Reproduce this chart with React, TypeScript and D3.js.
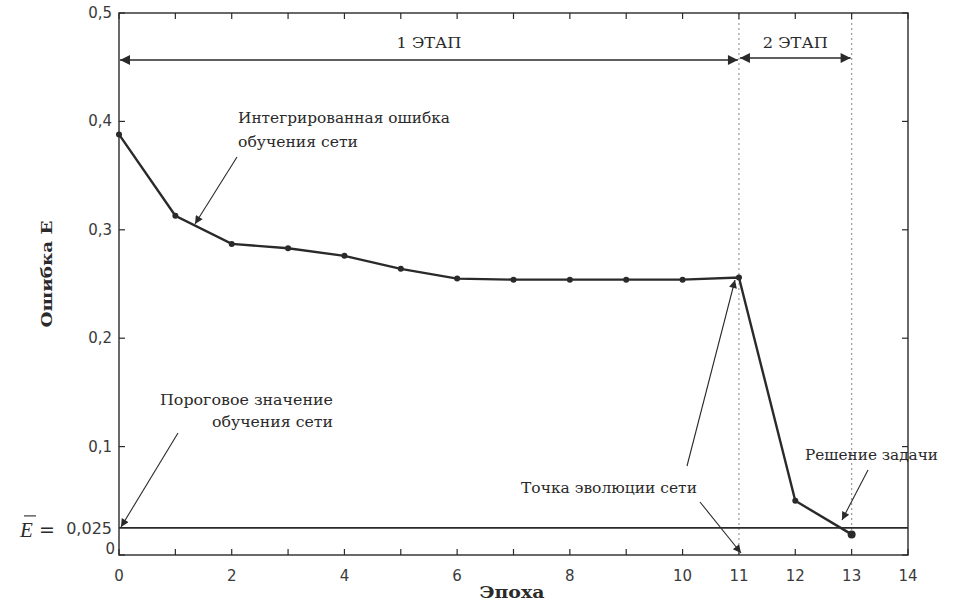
import React from "react";
import * as d3 from "d3";

const epochs = [0, 1, 2, 3, 4, 5, 6, 7, 8, 9, 10, 11, 12, 13];
const errors = [0.388, 0.313, 0.287, 0.283, 0.276, 0.264, 0.255, 0.254, 0.254, 0.254, 0.254, 0.256, 0.05, 0.019];
const threshold = 0.025;
const xTickMarks = d3.range(0, 15);
const xTickLabels = [0, 2, 4, 6, 8, 10, 11, 12, 13, 14];
const yTickValues = [0, 0.1, 0.2, 0.3, 0.4, 0.5];
const stageBounds = [0, 11, 13];
const stageLabels = ["1 ЭТАП", "2 ЭТАП"];

const W = 955, H = 606;
const L = 119, R = 908, T = 13, B = 555;

export default function App() {
  const x = d3.scaleLinear().domain([0, 14]).range([L, R]);
  const y = d3.scaleLinear().domain([0, 0.5]).range([B, T]);
  const line = d3.line<number>().x((_, i) => x(epochs[i])).y((d) => y(d));
  const fmt = (v: number) => (v === 0 ? "0" : d3.format(".1f")(v).replace(".", ","));
  const serif = "'DejaVu Serif', 'Liberation Serif', serif";
  const sans = "'DejaVu Sans', sans-serif";
  const ink = "#2a2a2a";
  const tickInk = "#3a3a3a";
  const stageY = 60;

  const ann = (t: string, xx: number, yy: number, len: number, anchor = "start") => (
    <text x={xx} y={yy} fontSize={15} fill={ink} fontFamily={serif} textAnchor={anchor} textLength={len} lengthAdjust="spacingAndGlyphs">{t}</text>
  );

  return (
    <svg width={W} height={H} style={{ position: "absolute", left: 0, top: 0, background: "#fff" }} fontFamily={serif}>
      <defs>
        <marker id="ah" viewBox="0 0 10 10" refX="10" refY="5" markerWidth="11" markerHeight="8" markerUnits="userSpaceOnUse" orient="auto-start-reverse">
          <path d="M0,0 L10,5 L0,10 z" fill={ink} />
        </marker>
        <marker id="ah2" viewBox="0 0 10 10" refX="10" refY="5" markerWidth="14" markerHeight="10" markerUnits="userSpaceOnUse" orient="auto-start-reverse">
          <path d="M0,0 L10,5 L0,10 z" fill={ink} />
        </marker>
      </defs>
      <rect x={0} y={0} width={W} height={H} fill="#fff" />

      {/* dotted stage boundaries */}
      {[11, 13].map((v) => (
        <line key={v} x1={x(v)} x2={x(v)} y1={T} y2={v === 13 ? y(errors[13]) : B} stroke="#999" strokeWidth={1.2} strokeDasharray="2,3" />
      ))}

      {/* threshold line */}
      <line x1={x(0)} x2={R} y1={y(threshold)} y2={y(threshold)} stroke={ink} strokeWidth={1.6} />

      {/* frame */}
      <rect x={L} y={T} width={R - L} height={B - T} fill="none" stroke={ink} strokeWidth={1.4} />

      {/* x ticks */}
      {xTickMarks.map((v) => (
        <g key={v}>
          <line x1={x(v)} x2={x(v)} y1={B} y2={B - 6} stroke={ink} strokeWidth={1.2} />
          <line x1={x(v)} x2={x(v)} y1={T} y2={T + 6} stroke={ink} strokeWidth={1.2} />
        </g>
      ))}
      {xTickLabels.map((v) => (
        <text key={v} x={x(v)} y={B + 26} textAnchor="middle" fontSize={15} fill={tickInk} fontFamily={sans}>{v}</text>
      ))}

      {/* y ticks */}
      {yTickValues.map((v) => (
        <g key={v}>
          <line x1={L} x2={L + 6} y1={y(v)} y2={y(v)} stroke={ink} strokeWidth={1.2} />
          <line x1={R} x2={R - 6} y1={y(v)} y2={y(v)} stroke={ink} strokeWidth={1.2} />
          <text x={v === 0 ? L - 4 : L - 7} y={y(v) + (v === 0 ? -1 : 5)} textAnchor="end" fontSize={15} fill={tickInk} fontFamily={sans}>{fmt(v)}</text>
        </g>
      ))}
      <text x={20} y={y(threshold) + 9} fontSize={21} fontStyle="italic" fill={ink} fontFamily="'Liberation Serif', serif">E</text>
      <line x1={24} x2={36} y1={y(threshold) - 12} y2={y(threshold) - 12} stroke={ink} strokeWidth={1.1} />
      <text x={39} y={y(threshold) + 8} fontSize={19} fill={ink} fontFamily={sans}>=</text>
      <text x={L - 7} y={y(threshold) + 6} textAnchor="end" fontSize={16} fill={tickInk} fontFamily={sans}>0,025</text>

      {/* axis titles */}
      <text x={512} y={598} textAnchor="middle" fontSize={16} fontWeight="bold" fill={ink} textLength={65} lengthAdjust="spacingAndGlyphs">Эпоха</text>
      <text transform={`translate(52, 274) rotate(-90)`} textAnchor="middle" fontSize={15} fontWeight="bold" fill={ink} textLength={107} lengthAdjust="spacingAndGlyphs">Ошибка E</text>

      {/* stage arrows */}
      {stageLabels.map((s, i) => (
        <g key={s}>
          <line x1={x(stageBounds[i]) + 1} x2={x(stageBounds[i + 1]) - 1} y1={stageY - (i === 1 ? 2 : 0)} y2={stageY - (i === 1 ? 2 : 0)} stroke={ink} strokeWidth={1.5} markerStart="url(#ah2)" markerEnd="url(#ah2)" />
          <text x={(x(stageBounds[i]) + x(stageBounds[i + 1])) / 2} y={48} textAnchor="middle" fontSize={15} fill={ink} textLength={65} lengthAdjust="spacingAndGlyphs">{s}</text>
        </g>
      ))}

      {/* data */}
      <path d={line(errors) || ""} fill="none" stroke={ink} strokeWidth={2.4} />
      {errors.map((v, i) => (
        <circle key={i} cx={x(epochs[i])} cy={y(v)} r={i === 13 ? 4 : 3} fill={ink} />
      ))}

      {/* annotations */}
      {ann("Интегрированная ошибка", 238, 123, 212)}
      {ann("обучения сети", 238, 147, 120)}
      <line x1={237} y1={157} x2={195} y2={224} stroke={ink} strokeWidth={1.1} markerEnd="url(#ah)" />

      {ann("Пороговое значение", 160, 405, 173)}
      {ann("обучения сети", 212, 427, 121)}
      <line x1={178} y1={433} x2={121} y2={527} stroke={ink} strokeWidth={1.1} markerEnd="url(#ah)" />

      {ann("Точка эволюции сети", 521, 493, 176)}
      <line x1={687} y1={466} x2={735} y2={280} stroke={ink} strokeWidth={1.1} markerEnd="url(#ah)" />
      <line x1={700} y1={502} x2={741} y2={553} stroke={ink} strokeWidth={1.1} markerEnd="url(#ah)" />

      {ann("Решение задачи", 805, 460, 133)}
      <line x1={868} y1={470} x2={842} y2={520} stroke={ink} strokeWidth={1.1} markerEnd="url(#ah)" />
    </svg>
  );
}
